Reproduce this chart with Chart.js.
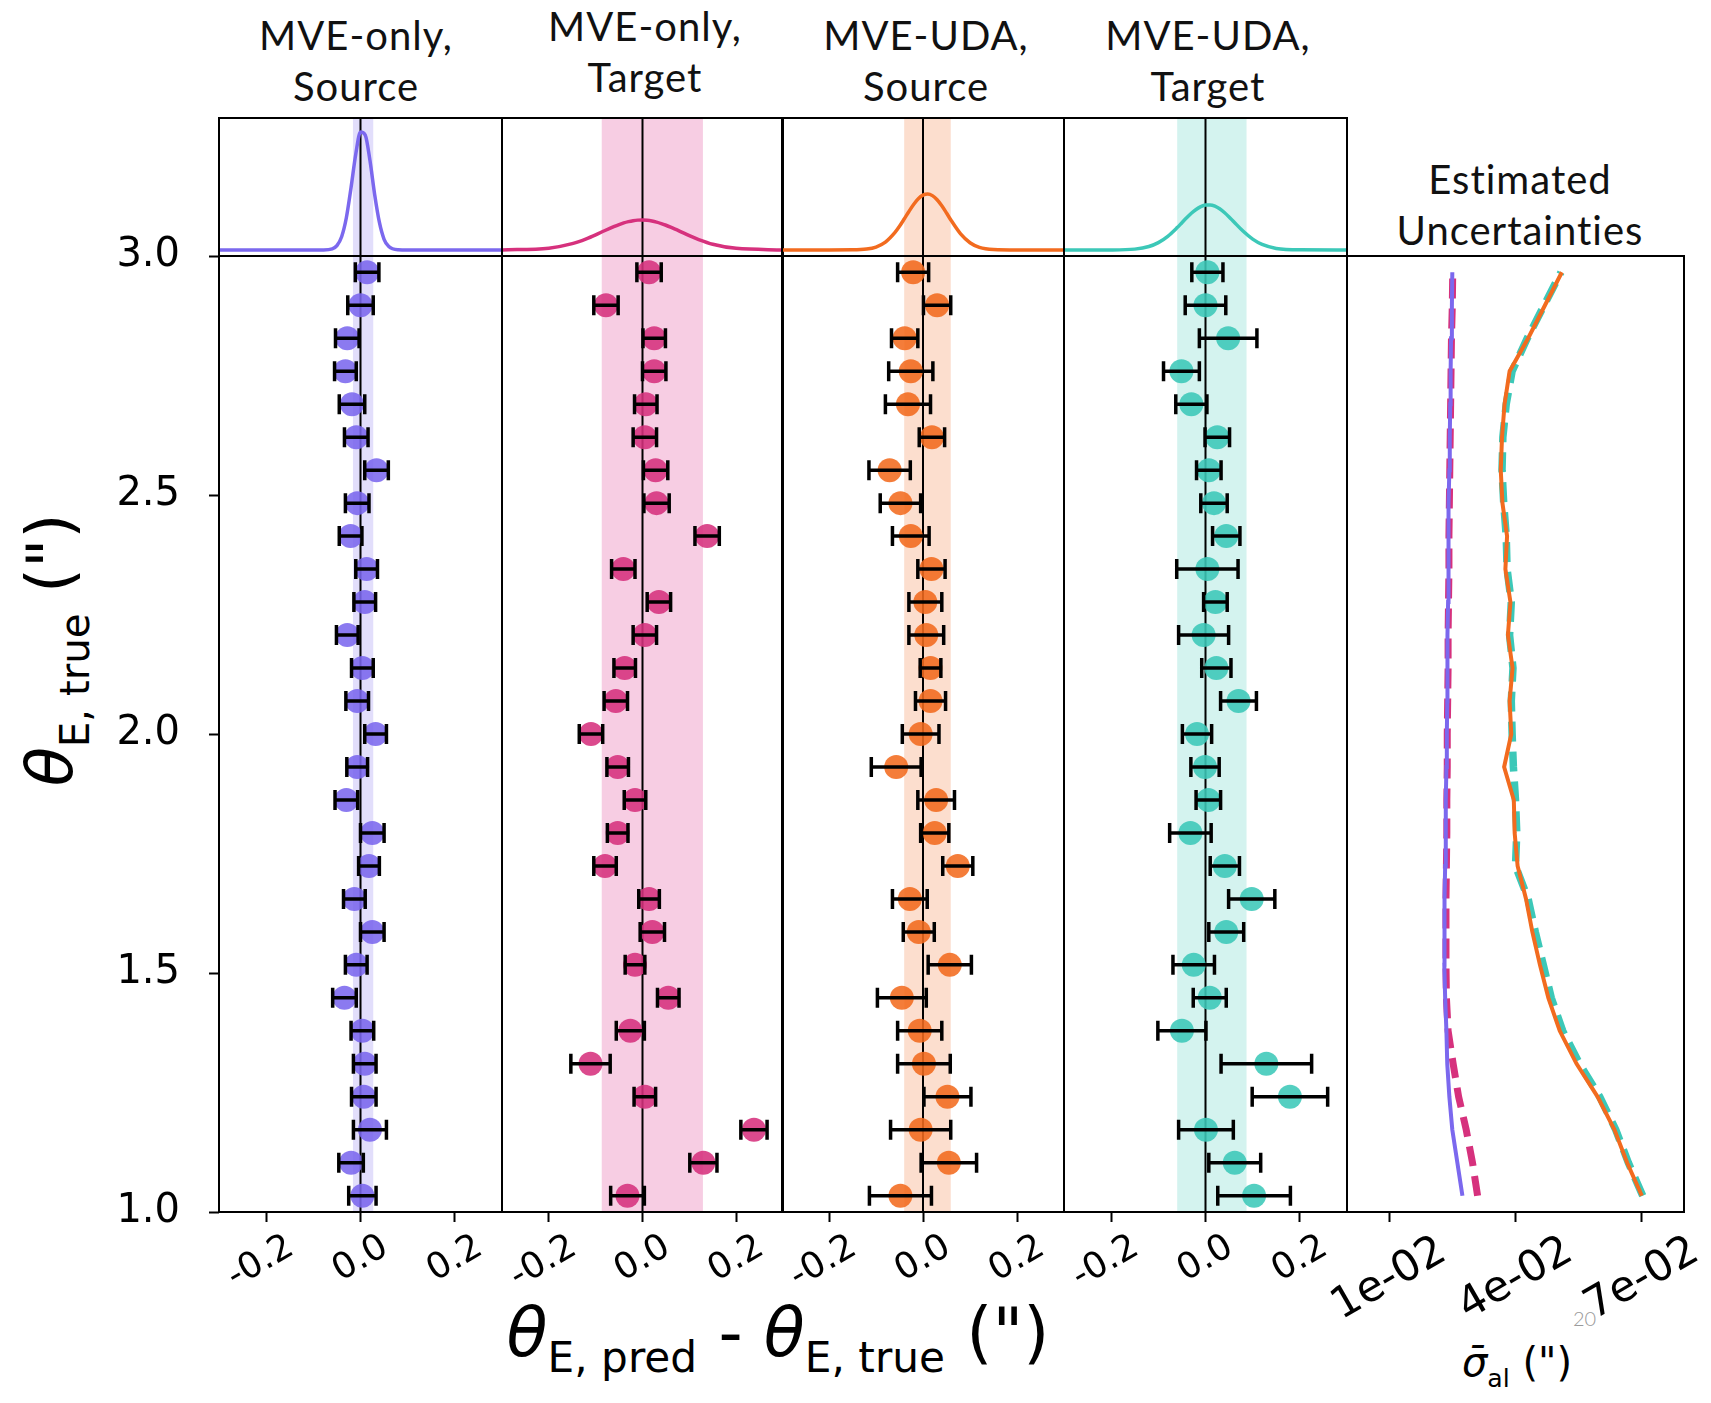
<!DOCTYPE html>
<html>
<head>
<meta charset="utf-8">
<title>Einstein radius residuals</title>
<script src="https://cdn.jsdelivr.net/npm/chart.js@4.4.1/dist/chart.umd.min.js"></script>
<style>
  body { margin: 0; background: #fff; }
  #page { position: relative; width: 1711px; height: 1403px; overflow: hidden; background: #fff; }
  canvas { position: absolute; }
  .ttl { position: absolute; font-family: Lato, "Open Sans", sans-serif; font-size: 40px; line-height: 51px; letter-spacing: 1px;
         text-align: center; transform: translateX(-50%); white-space: nowrap; color: #111; }
  .math { position: absolute; font-family: "DejaVu Sans", sans-serif; white-space: nowrap; color: #000; }
  .math i { font-style: oblique; }
  .math sub { font-size: 0.63em; vertical-align: -0.4em; font-style: normal; }
  .pg { position: absolute; font-family: Lato, sans-serif; font-weight: 300; font-size: 20px; color: #9a9a9a; }
</style>
</head>
<body>
<div id="page">
  <div class="ttl" style="left:356px; top:10px;">MVE-only,<br>Source</div>
  <div class="ttl" style="left:645px; top:1px;">MVE-only,<br>Target</div>
  <div class="ttl" style="left:926px; top:10px;">MVE-UDA,<br>Source</div>
  <div class="ttl" style="left:1208px; top:10px;">MVE-UDA,<br>Target</div>
  <div class="ttl" style="left:1520px; top:154px;">Estimated<br>Uncertainties</div>

  <div class="math" style="left:56px; top:650px; font-size:64px; transform:translate(-50%,-50%) rotate(-90deg);"><i>θ</i><sub>E, true</sub> (")</div>
  <div class="math" style="left:778px; top:1338px; font-size:67px; transform:translate(-50%,-50%);"><i>θ</i><sub>E, pred</sub> - <i>θ</i><sub>E, true</sub> (")</div>
  <div class="math" style="left:1517px; top:1366px; font-size:40px; transform:translate(-50%,-50%);"><i>σ̄</i><sub>al</sub> (")</div>
  <div class="pg" style="left:1573px; top:1306px;">20</div>
</div>

<script>
// bin centres of the true Einstein radius (")
const THETA_TRUE = [1.034, 1.103, 1.172, 1.241, 1.310, 1.379, 1.448, 1.517, 1.586, 1.655,
                    1.724, 1.793, 1.862, 1.931, 2.000, 2.069, 2.138, 2.207, 2.276, 2.345,
                    2.414, 2.483, 2.552, 2.621, 2.690, 2.759, 2.828, 2.897, 2.966];

// residuals (pred - true) and error bars, per bin
const SRC_ONLY_RES = [0.004, -0.020, 0.020, 0.007, 0.009, 0.004, -0.034, -0.009, 0.025, -0.013,
                      0.018, 0.025, -0.030, -0.007, 0.032, -0.007, 0.004, -0.028, 0.009, 0.013,
                      -0.021, -0.007, 0.034, -0.009, -0.018, -0.032, -0.028, 0.000, 0.014];
const SRC_ONLY_ERR = [0.029, 0.026, 0.035, 0.026, 0.024, 0.024, 0.025, 0.023, 0.025, 0.023,
                      0.022, 0.025, 0.024, 0.022, 0.023, 0.024, 0.023, 0.023, 0.023, 0.023,
                      0.024, 0.025, 0.025, 0.025, 0.027, 0.023, 0.025, 0.027, 0.025];

const TGT_ONLY_RES = [-0.032, 0.130, 0.238, 0.005, -0.111, -0.026, 0.055, -0.016, 0.021, 0.014,
                      -0.080, -0.053, -0.016, -0.053, -0.110, -0.057, -0.038, 0.005, 0.035, -0.041,
                      0.138, 0.030, 0.028, 0.005, 0.007, 0.025, 0.025, -0.078, 0.014];
const TGT_ONLY_ERR = [0.036, 0.029, 0.028, 0.023, 0.042, 0.030, 0.023, 0.021, 0.026, 0.022,
                      0.024, 0.022, 0.023, 0.023, 0.025, 0.025, 0.023, 0.025, 0.025, 0.025,
                      0.026, 0.027, 0.026, 0.025, 0.024, 0.025, 0.024, 0.026, 0.026];

const UDA_SRC_RES = [-0.048, 0.055, -0.005, 0.052, 0.002, -0.007, -0.045, 0.057, -0.009, -0.028,
                     0.074, 0.025, 0.028, -0.057, -0.005, 0.016, 0.016, 0.007, 0.005, 0.018,
                     -0.026, -0.048, -0.071, 0.019, -0.032, -0.026, -0.039, 0.030, -0.021];
const UDA_SRC_ERR = [0.066, 0.059, 0.064, 0.050, 0.056, 0.047, 0.052, 0.046, 0.033, 0.037,
                     0.032, 0.030, 0.039, 0.053, 0.039, 0.032, 0.022, 0.037, 0.035, 0.029,
                     0.039, 0.043, 0.044, 0.027, 0.048, 0.047, 0.028, 0.029, 0.033];

const UDA_TGT_RES = [0.103, 0.062, 0.001, 0.179, 0.129, -0.050, 0.009, -0.025, 0.044, 0.098,
                     0.041, -0.032, 0.006, -0.001, -0.018, 0.070, 0.023, -0.004, 0.021, 0.004,
                     0.044, 0.018, 0.007, 0.025, -0.030, -0.051, 0.048, 0.000, 0.004];
const UDA_TGT_ERR = [0.077, 0.055, 0.058, 0.080, 0.096, 0.051, 0.035, 0.044, 0.037, 0.049,
                     0.031, 0.044, 0.026, 0.030, 0.031, 0.038, 0.031, 0.053, 0.025, 0.065,
                     0.029, 0.028, 0.026, 0.026, 0.033, 0.038, 0.061, 0.043, 0.033];

// shaded scatter bands [low, high] per panel
const BAND_LO = [-0.016, -0.087, -0.040, -0.060];
const BAND_HI = [0.027, 0.129, 0.059, 0.087];

// residual density curves for the top strip
const KDE_X = [-0.30, -0.20, -0.15, -0.12, -0.10, -0.08, -0.06, -0.05, -0.04, -0.03, -0.02, -0.01, 0.00,
               0.01, 0.02, 0.03, 0.04, 0.05, 0.06, 0.08, 0.10, 0.12, 0.15, 0.20, 0.30];
const KDE_SRC_ONLY = [0, 0, 0, 0, 0, 0.01, 0.18, 0.70, 2.1, 5.1, 9.9, 15.2, 18.7,
                      18.2, 14.2, 8.8, 4.4, 1.7, 0.54, 0.03, 0, 0, 0, 0, 0];
const KDE_TGT_ONLY = [0.01, 0.29, 1.0, 1.77, 2.4, 3.09, 3.74, 4.03, 4.29, 4.49, 4.64, 4.73, 4.75,
                      4.70, 4.59, 4.42, 4.19, 3.92, 3.62, 2.96, 2.27, 1.66, 0.92, 0.26, 0.01];
const KDE_UDA_SRC = [0, 0, 0.02, 0.15, 0.47, 1.25, 2.74, 3.75, 4.90, 6.09, 7.2, 8.12, 8.69,
                     8.87, 8.61, 7.95, 7.0, 5.86, 4.67, 2.55, 1.15, 0.42, 0.07, 0, 0];
const KDE_UDA_TGT = [0, 0.01, 0.14, 0.55, 1.17, 2.17, 3.55, 4.32, 5.09, 5.81, 6.42, 6.87, 7.12,
                     7.14, 6.94, 6.52, 5.94, 5.24, 4.47, 2.96, 1.72, 0.88, 0.25, 0.02, 0];

// mean aleatoric uncertainty per bin (")
const SIG_SRC_ONLY = [0.0274, 0.0262, 0.0250, 0.0243, 0.0238, 0.0236, 0.0233, 0.0231, 0.0231, 0.0232,
                      0.0233, 0.0234, 0.0235, 0.0236, 0.0237, 0.0238, 0.0238, 0.0239, 0.0240, 0.0240,
                      0.0241, 0.0242, 0.0243, 0.0244, 0.0245, 0.0246, 0.0247, 0.0249, 0.0250];
const SIG_TGT_ONLY = [0.0310, 0.0298, 0.0283, 0.0265, 0.0252, 0.0240, 0.0236, 0.0235, 0.0235, 0.0235,
                      0.0236, 0.0237, 0.0237, 0.0238, 0.0238, 0.0239, 0.0240, 0.0240, 0.0241, 0.0242,
                      0.0242, 0.0243, 0.0244, 0.0245, 0.0246, 0.0247, 0.0248, 0.0250, 0.0251];
const SIG_UDA_SRC = [0.0700, 0.0665, 0.0635, 0.0595, 0.0545, 0.0505, 0.0478, 0.0458, 0.0440, 0.0425,
                     0.0405, 0.0398, 0.0396, 0.0373, 0.0390, 0.0386, 0.0393, 0.0382, 0.0388, 0.0376,
                     0.0380, 0.0369, 0.0365, 0.0368, 0.0374, 0.0386, 0.0430, 0.0470, 0.0510];
const SIG_UDA_TGT = [0.0702, 0.0668, 0.0638, 0.0600, 0.0552, 0.0512, 0.0485, 0.0466, 0.0447, 0.0430,
                     0.0400, 0.0403, 0.0400, 0.0395, 0.0392, 0.0390, 0.0394, 0.0386, 0.0390, 0.0380,
                     0.0378, 0.0372, 0.0368, 0.0370, 0.0378, 0.0392, 0.0428, 0.0468, 0.0508];

const X_TICKS = [-0.2, 0.0, 0.2];
const Y_TICKS = [1.0, 1.5, 2.0, 2.5, 3.0];
const SIG_TICKS = [0.01, 0.04, 0.07];

// ---- layout ----
const page = document.getElementById('page');
const TOP_TOP = 118, MAIN_TOP = 256, MAIN_BOT = 1212;
const COLS = [[219, 502], [502, 783], [782, 1064], [1064, 1347]];
const SIG_COL = [1347, 1684];
const PADT = 30, PADS = 70, XH = 150, YW = 150;

const PURPLE = '#7b68ee', PINK = '#d6317d', ORANGE = '#f26b1f', TEAL = '#3cc8b8';

const PANELS = [
  { res: SRC_ONLY_RES, err: SRC_ONLY_ERR, kde: KDE_SRC_ONLY, color: PURPLE, band: 'rgba(123,104,238,0.22)' },
  { res: TGT_ONLY_RES, err: TGT_ONLY_ERR, kde: KDE_TGT_ONLY, color: PINK,   band: 'rgba(225,70,150,0.27)' },
  { res: UDA_SRC_RES,  err: UDA_SRC_ERR,  kde: KDE_UDA_SRC,  color: ORANGE, band: 'rgba(242,107,31,0.22)' },
  { res: UDA_TGT_RES,  err: UDA_TGT_ERR,  kde: KDE_UDA_TGT,  color: TEAL,   band: 'rgba(60,200,184,0.22)' }
];

function makeCanvas(l, t, w, h) {
  const c = document.createElement('canvas');
  c.width = w; c.height = h;
  c.style.left = l + 'px'; c.style.top = t + 'px';
  c.style.width = w + 'px'; c.style.height = h + 'px';
  page.appendChild(c);
  return c;
}

// ---- plugins ----
const bandPlugin = {
  id: 'band',
  beforeDatasetsDraw(chart, args, opts) {
    if (opts.lo === undefined) return;
    const { ctx, chartArea: a, scales: { x } } = chart;
    ctx.save();
    ctx.fillStyle = opts.color;
    const x0 = x.getPixelForValue(opts.lo), x1 = x.getPixelForValue(opts.hi);
    ctx.fillRect(x0, a.top, x1 - x0, a.bottom - a.top);
    ctx.strokeStyle = '#000';
    ctx.lineWidth = 2;
    const z = x.getPixelForValue(0);
    ctx.beginPath(); ctx.moveTo(z, a.top); ctx.lineTo(z, a.bottom); ctx.stroke();
    ctx.restore();
  }
};

const errorBarPlugin = {
  id: 'errbars',
  afterDatasetsDraw(chart) {
    const ds = chart.data.datasets[0];
    if (!ds.errors) return;
    const { ctx, scales: { x, y } } = chart;
    ctx.save();
    ctx.strokeStyle = '#000';
    ctx.lineWidth = 3.5;
    ds.data.forEach((p, i) => {
      const e = ds.errors[i];
      const x0 = x.getPixelForValue(p.x - e), x1 = x.getPixelForValue(p.x + e);
      const yp = y.getPixelForValue(p.y);
      ctx.beginPath();
      ctx.moveTo(x0, yp); ctx.lineTo(x1, yp);
      ctx.moveTo(x0, yp - 10); ctx.lineTo(x0, yp + 10);
      ctx.moveTo(x1, yp - 10); ctx.lineTo(x1, yp + 10);
      ctx.stroke();
    });
    ctx.restore();
  }
};

const framePlugin = {
  id: 'frame',
  afterDraw(chart) {
    const { ctx, chartArea: a } = chart;
    ctx.save();
    ctx.strokeStyle = '#000';
    ctx.lineWidth = 2;
    ctx.strokeRect(a.left, a.top, a.right - a.left, a.bottom - a.top);
    ctx.restore();
  }
};

const tickGrid = { display: true, drawOnChartArea: false, drawTicks: true, tickLength: 10, tickWidth: 2, tickColor: '#000' };

function axisX(min, max, ticks, fmt, size, offset) {
  return {
    type: 'linear', min: min, max: max, position: 'bottom',
    afterBuildTicks: s => { s.ticks = ticks.map(v => ({ value: v })); },
    afterFit: s => { s.height = XH; s.paddingLeft = 0; s.paddingRight = 0; },
    grid: tickGrid,
    border: { display: false },
    ticks: {
      autoSkip: false, minRotation: 30, maxRotation: 30, padding: 4, labelOffset: offset,
      color: '#000', font: { family: 'DejaVu Sans', size: size },
      callback: fmt
    }
  };
}

function axisY(show) {
  return {
    type: 'linear', min: 1.0, max: 3.0, display: show,
    afterBuildTicks: s => { s.ticks = Y_TICKS.map(v => ({ value: v })); },
    afterFit: s => { if (show) { s.width = YW; s.paddingTop = 0; s.paddingBottom = 0; } },
    grid: tickGrid,
    border: { display: false },
    ticks: { padding: 29, color: '#000', font: { family: 'DejaVu Sans', size: 40 }, callback: v => v.toFixed(1) }
  };
}

const base = {
  responsive: false, animation: false, devicePixelRatio: 1, events: []
};

// ---- residual panels and density strips ----
PANELS.forEach((p, k) => {
  const [l, r] = COLS[k];

  const topCv = makeCanvas(l - 2, TOP_TOP - 2, r - l + 4, MAIN_TOP - TOP_TOP + 4);
  new Chart(topCv, {
    type: 'scatter',
    data: { datasets: [{
      data: KDE_X.map((x, i) => ({ x: x, y: p.kde[i] })),
      showLine: true, borderColor: p.color, borderWidth: 3.5, pointRadius: 0,
      cubicInterpolationMode: 'monotone'
    }] },
    options: Object.assign({}, base, {
      layout: { padding: 2 },
      scales: {
        x: { type: 'linear', min: -0.3, max: 0.3, display: false },
        y: { type: 'linear', min: -0.95, max: 20.9, display: false }
      },
      plugins: { legend: { display: false }, tooltip: { enabled: false },
                 band: { lo: BAND_LO[k], hi: BAND_HI[k], color: p.band } }
    }),
    plugins: [bandPlugin, framePlugin]
  });

  const leftRoom = k === 0 ? YW : PADS;
  const cv = makeCanvas(l - leftRoom, MAIN_TOP - PADT, leftRoom + (r - l) + PADS, PADT + (MAIN_BOT - MAIN_TOP) + XH);
  new Chart(cv, {
    type: 'scatter',
    data: { datasets: [{
      data: THETA_TRUE.map((t, i) => ({ x: p.res[i], y: t })),
      errors: p.err,
      pointRadius: 12, pointBackgroundColor: p.color + 'e0', pointBorderWidth: 0
    }] },
    options: Object.assign({}, base, {
      layout: { padding: { left: k === 0 ? 0 : PADS, right: PADS, top: PADT, bottom: 0 } },
      scales: { x: axisX(-0.3, 0.3, X_TICKS, v => v.toFixed(1), 36, 25), y: axisY(k === 0) },
      plugins: { legend: { display: false }, tooltip: { enabled: false },
                 band: { lo: BAND_LO[k], hi: BAND_HI[k], color: p.band } }
    }),
    plugins: [bandPlugin, errorBarPlugin, framePlugin]
  });
});

// ---- estimated uncertainty panel ----
(function () {
  const [l, r] = SIG_COL;
  const cv = makeCanvas(l - PADS, MAIN_TOP - PADT, PADS + (r - l) + 27, PADT + (MAIN_BOT - MAIN_TOP) + XH);
  const line = (arr, color, width, dash) => ({
    data: THETA_TRUE.map((t, i) => ({ x: arr[i], y: t })),
    showLine: true, borderColor: color, borderWidth: width, borderDash: dash,
    pointRadius: 0, borderCapStyle: 'butt'
  });
  new Chart(cv, {
    type: 'scatter',
    data: { datasets: [
      line(SIG_SRC_ONLY, PURPLE, 4, []),
      line(SIG_UDA_SRC, ORANGE, 4, []),
      line(SIG_TGT_ONLY, PINK, 7, [20, 10]),
      line(SIG_UDA_TGT, TEAL, 7.5, [20, 10])
    ] },
    options: Object.assign({}, base, {
      layout: { padding: { left: PADS, right: 27, top: PADT, bottom: 0 } },
      scales: {
        x: axisX(0, 0.08, SIG_TICKS, v => Math.round(v * 100) + 'e-02', 43, 54),
        y: { type: 'linear', min: 1.0, max: 3.0, display: false }
      },
      plugins: { legend: { display: false }, tooltip: { enabled: false } }
    }),
    plugins: [framePlugin]
  });
})();
</script>
</body>
</html>
